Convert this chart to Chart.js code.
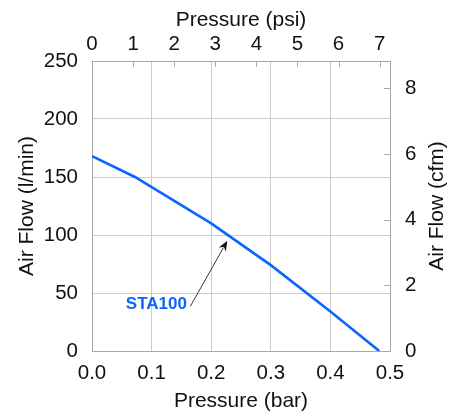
<!DOCTYPE html>
<html>
<head>
<meta charset="utf-8">
<script src="https://cdn.jsdelivr.net/npm/chart.js@4.4.1/dist/chart.umd.min.js"></script>
<style>
  html, body { margin: 0; padding: 0; background: #fff; }
  #wrap { width: 449px; height: 414px; }
</style>
</head>
<body>
<div id="wrap"><canvas id="flowChart"></canvas></div>
<script>
// Air flow vs pressure
const pressureBar = [0, 0.072, 0.2, 0.3, 0.4, 0.482];
const airFlowLmin = [168, 150, 110, 74, 34, 0];

const barTicks = [0, 0.1, 0.2, 0.3, 0.4, 0.5];
const lminTicks = [0, 50, 100, 150, 200, 250];
const psiTicks = [0, 1, 2, 3, 4, 5, 6, 7];
const cfmTicks = [0, 2, 4, 6, 8];

const PSI_PER_BAR = 14.5038;
const CFM_PER_LMIN = 0.0353147;

// label + arrow, in data units (bar, l/min)
const seriesLabel = 'STA100';
const labelAt = [0.108, 40];
const arrowFrom = [0.165, 38.5];
const arrowTo = [0.227, 95];
const rightTitle = 'Air Flow (cfm)';

const BLUE = '#0a64ff';
const FRAME = '#a8a8a8';
const GRID = '#cccccc';
const FONT = "'Liberation Sans', Arial, Helvetica, sans-serif";

Chart.defaults.font.family = FONT;
Chart.defaults.color = '#111';

const tickFont = { size: 20.5 };
const titleFont = { size: 21 };

const extras = {
  id: 'extras',
  afterDraw(chart) {
    const ctx = chart.ctx;
    const area = chart.chartArea;
    const x2 = chart.scales.x2;
    const y2 = chart.scales.y2;
    const len = 6;
    ctx.save();
    // inward ticks on top and right axes
    ctx.strokeStyle = FRAME;
    ctx.lineWidth = 1;
    ctx.beginPath();
    x2.ticks.forEach(t => {
      const px = Math.round(x2.getPixelForValue(t.value)) + 0.5;
      ctx.moveTo(px, area.top);
      ctx.lineTo(px, area.top + len);
    });
    y2.ticks.forEach(t => {
      const py = Math.round(y2.getPixelForValue(t.value)) + 0.5;
      ctx.moveTo(area.right, py);
      ctx.lineTo(area.right - len, py);
    });
    ctx.stroke();

    // right axis title, reading bottom to top
    ctx.fillStyle = '#111';
    ctx.font = titleFont.size + 'px ' + FONT;
    ctx.textAlign = 'center';
    ctx.textBaseline = 'middle';
    ctx.translate(y2.right - 12, (area.top + area.bottom) / 2);
    ctx.rotate(-Math.PI / 2);
    ctx.fillText(rightTitle, 0, 0);
    ctx.setTransform(1, 0, 0, 1, 0, 0);
    ctx.scale(chart.currentDevicePixelRatio, chart.currentDevicePixelRatio);

    // series label and arrow
    const xs = chart.scales.x, ys = chart.scales.y;
    ctx.fillStyle = BLUE;
    ctx.font = 'bold 17px ' + FONT;
    ctx.fillText(seriesLabel, xs.getPixelForValue(labelAt[0]), ys.getPixelForValue(labelAt[1]));

    const ax = xs.getPixelForValue(arrowFrom[0]), ay = ys.getPixelForValue(arrowFrom[1]);
    const bx = xs.getPixelForValue(arrowTo[0]), by = ys.getPixelForValue(arrowTo[1]);
    const ang = Math.atan2(by - ay, bx - ax);
    const head = 10, half = 4;
    const c = Math.cos(ang), s = Math.sin(ang);
    ctx.strokeStyle = '#222';
    ctx.fillStyle = '#111';
    ctx.lineWidth = 0.9;
    ctx.beginPath();
    ctx.moveTo(ax, ay);
    ctx.lineTo(bx - c * head * 0.8, by - s * head * 0.8);
    ctx.stroke();
    ctx.beginPath();
    ctx.moveTo(bx, by);
    ctx.lineTo(bx - c * head - s * half, by - s * head + c * half);
    ctx.lineTo(bx - c * head * 0.7, by - s * head * 0.7);
    ctx.lineTo(bx - c * head + s * half, by - s * head - c * half);
    ctx.closePath();
    ctx.fill();
    ctx.restore();
  }
};

new Chart(document.getElementById('flowChart').getContext('2d'), {
  type: 'line',
  data: {
    datasets: [{
      label: seriesLabel,
      data: pressureBar.map((p, i) => ({ x: p, y: airFlowLmin[i] })),
      borderColor: BLUE,
      borderWidth: 2.6,
      pointRadius: 0,
      tension: 0,
      fill: false
    }]
  },
  options: {
    responsive: true,
    maintainAspectRatio: false,
    animation: false,
    layout: { padding: 0 },
    plugins: { legend: { display: false }, tooltip: { enabled: false } },
    scales: {
      x: {
        type: 'linear',
        position: 'bottom',
        min: 0,
        max: 0.5,
        afterBuildTicks: s => { s.ticks = barTicks.map(v => ({ value: v })); },
        afterFit: s => { s.height = 63; },
        ticks: { font: tickFont, padding: 10, callback: v => v.toFixed(1), maxRotation: 0 },
        grid: { color: GRID, drawTicks: false },
        border: { color: FRAME },
        title: { display: true, text: 'Pressure (bar)', font: titleFont, padding: { top: 0, bottom: 0 } }
      },
      x2: {
        type: 'linear',
        position: 'top',
        min: 0,
        max: 0.5 * PSI_PER_BAR,
        afterBuildTicks: s => { s.ticks = psiTicks.map(v => ({ value: v })); },
        afterFit: s => { s.height = 61; },
        ticks: { font: tickFont, padding: 4, callback: v => String(v), maxRotation: 0 },
        grid: { drawOnChartArea: false, drawTicks: false },
        border: { color: FRAME },
        title: { display: true, text: 'Pressure (psi)', font: titleFont, padding: { top: 8, bottom: 0 } }
      },
      y: {
        type: 'linear',
        position: 'left',
        min: 0,
        max: 250,
        afterBuildTicks: s => { s.ticks = lminTicks.map(v => ({ value: v })); },
        afterFit: s => { s.width = 92; },
        ticks: { font: tickFont, padding: 14 },
        grid: { color: GRID, drawTicks: false },
        border: { color: FRAME },
        title: { display: true, text: 'Air Flow (l/min)', font: titleFont, padding: { top: 15, bottom: 0 } }
      },
      y2: {
        type: 'linear',
        position: 'right',
        min: 0,
        max: 250 * CFM_PER_LMIN,
        afterBuildTicks: s => { s.ticks = cfmTicks.map(v => ({ value: v })); },
        afterFit: s => { s.width = 59; },
        ticks: { font: tickFont, padding: 15, callback: v => String(v) },
        grid: { drawOnChartArea: false, drawTicks: false },
        border: { color: FRAME },
        title: { display: false }
      }
    }
  },
  plugins: [extras]
});
</script>
</body>
</html>
